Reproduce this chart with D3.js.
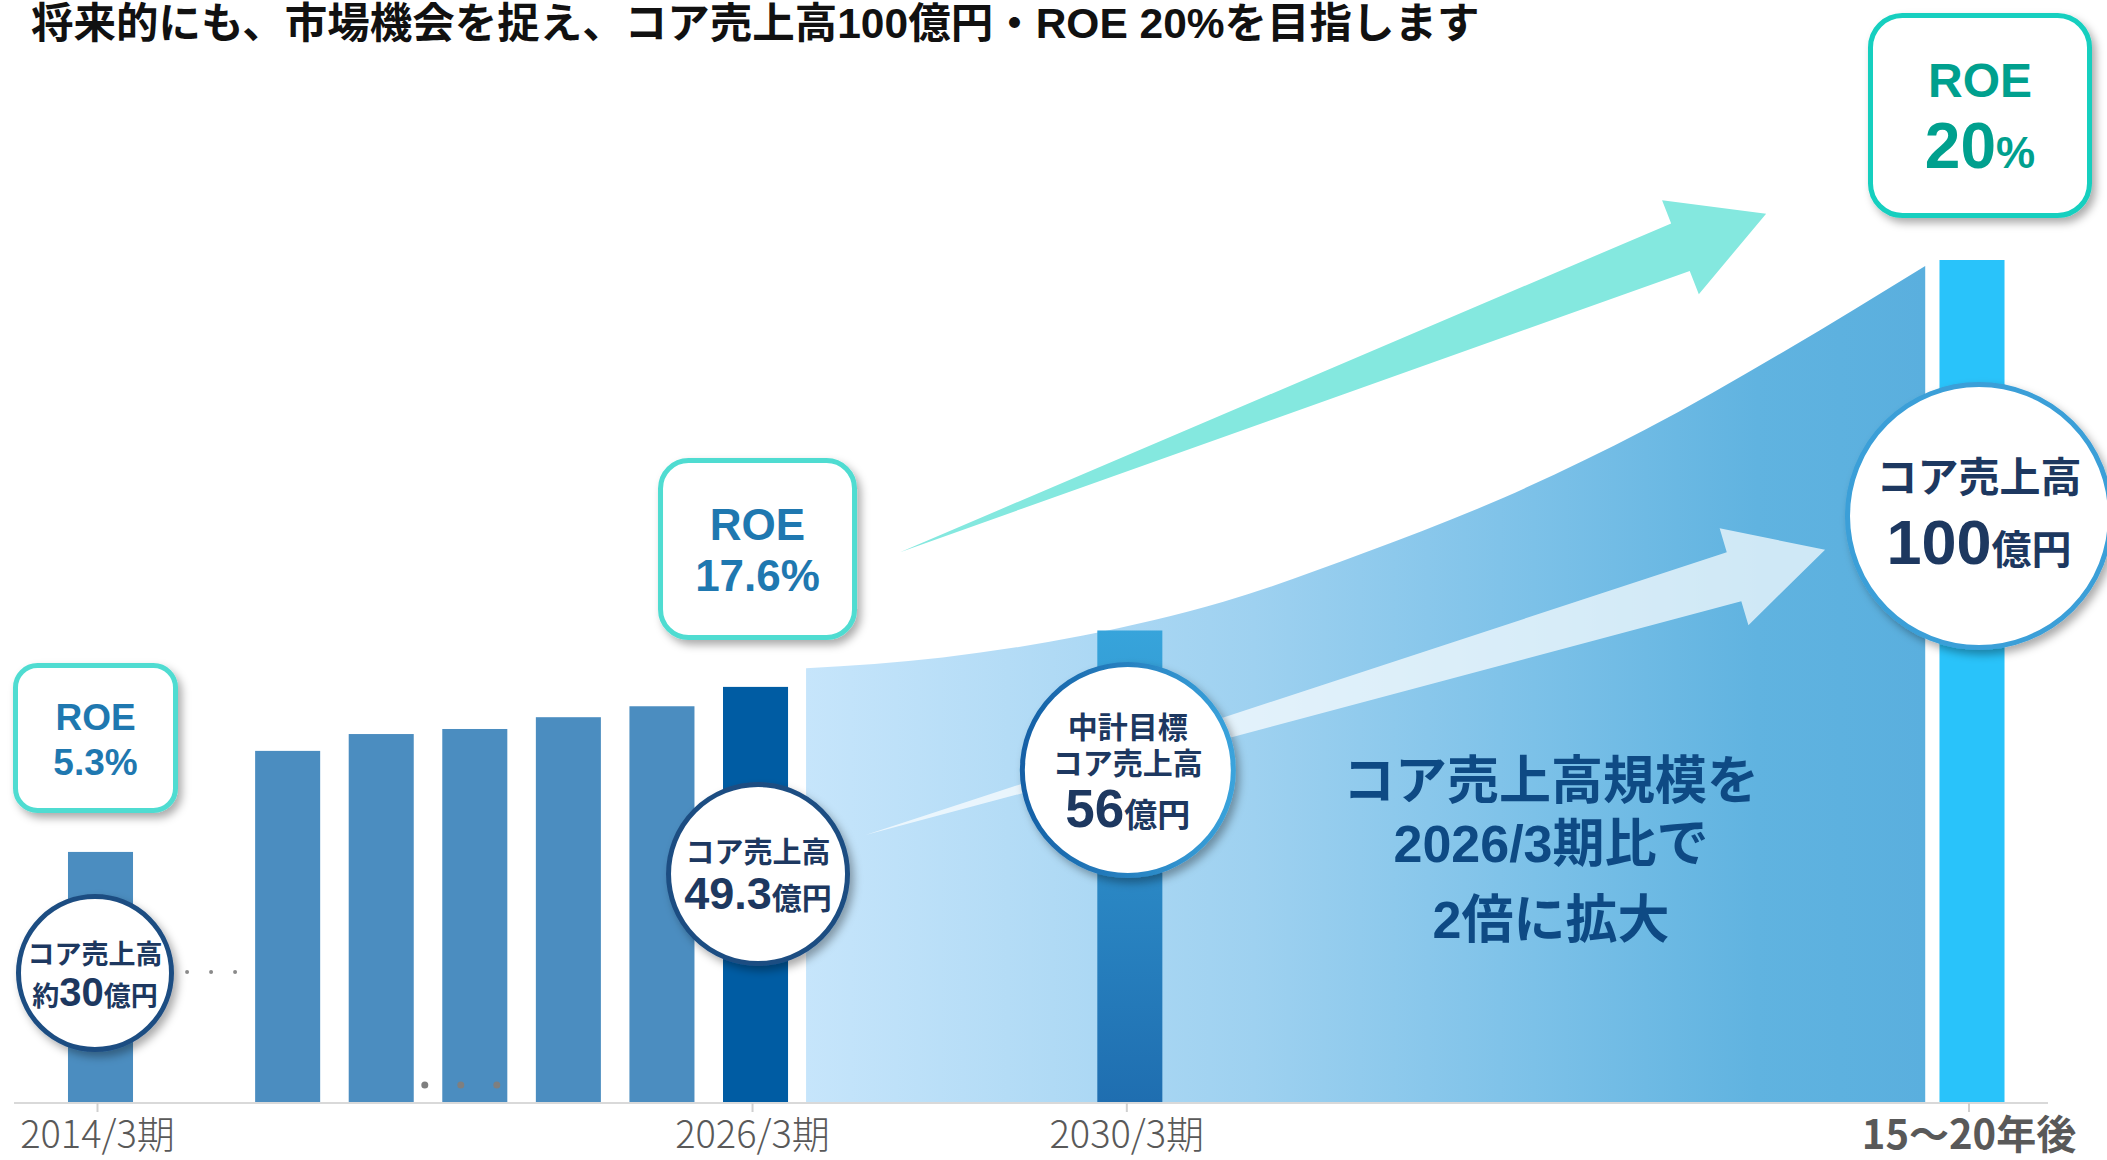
<!DOCTYPE html>
<html lang="ja">
<head>
<meta charset="utf-8">
<script src="https://cdn.jsdelivr.net/npm/d3@7"></script>
<style>
  html, body { margin: 0; padding: 0; background: #fff; }
  svg { display: block; }
  text { font-family: "Liberation Sans", "Noto Sans CJK JP", sans-serif; font-weight: bold; }
</style>
</head>
<body>
<svg id="chart"></svg>
<script>
const W = 2107, H = 1160;

// ---- data (core sales, 億円) ----
const title = "将来的にも、市場機会を捉え、コア売上高100億円・ROE 20%を目指します";
const barSlots  = [0, 2, 3, 4, 5, 6, 7, 11, 20];
const barValues = [29.7, 41.7, 43.7, 44.3, 45.7, 47.0, 49.3, 56, 100];
const growthSlots  = [7.54, 9, 10.5, 12, 13.5, 15, 16.5, 18, 19.5];
const growthValues = [51.5, 52.8, 55.4, 59.4, 65.2, 71.8, 79.8, 89.2, 99.3];
const tickSlots  = [0, 7, 11, 20];
const tickLabels = ["2014/3期", "2026/3期", "2030/3期", "15〜20年後"];
const roeLabels  = ["5.3%", "17.6%", "20%"];
const salesLabels = ["30", "49.3", "56", "100"];
const messageLines = ["コア売上高規模を", "2026/3期比で", "2倍に拡大"];
// arrows: [slot, value] of tail and tip
const roeArrow   = [[8.544, 65.3], [17.8, 105.5]];
const salesArrow = [[8.175, 31.7], [18.43, 65.6]];

const svg = d3.select("#chart").attr("width", W).attr("height", H);
const defs = svg.append("defs");

const x = d3.scaleLinear().domain([0, 20]).range([100.5, 1972]);
const y = d3.scaleLinear().domain([0, 100]).range([1102, 260]);
const step = x(1) - x(0);
const barW = step * 0.695;

function linGrad(id, stops, attrs) {
  const g = defs.append("linearGradient").attr("id", id);
  Object.entries(attrs).forEach(([k, v]) => g.attr(k, v));
  stops.forEach(([o, c]) => g.append("stop").attr("offset", o).attr("stop-color", c));
}
linGrad("areaGrad", [[0, "#c6e5fb"], [0.4, "#9ed1f0"], [0.65, "#7cc1e8"], [0.85, "#60b3e0"], [1, "#5aafde"]],
  { gradientUnits: "userSpaceOnUse", x1: x(growthSlots[0]), x2: x(growthSlots[growthSlots.length - 1]), y1: 0, y2: 0 });
linGrad("bar2030", [[0, "#37a4db"], [1, "#1f6eb0"]], { x1: 0, x2: 0, y1: 0, y2: 1 });
linGrad("ring2030", [[0, "#1560a6"], [1, "#3aa3dc"]], { x1: 0, x2: 1, y1: 0, y2: 0 });

const shadow = defs.append("filter").attr("id", "shadow")
  .attr("x", "-20%").attr("y", "-20%").attr("width", "150%").attr("height", "150%");
shadow.append("feDropShadow").attr("dx", 4).attr("dy", 5).attr("stdDeviation", 4)
  .attr("flood-color", "#000").attr("flood-opacity", 0.33);

// title
svg.append("text").attr("x", 31).attr("y", 38).attr("font-size", 42.5).attr("fill", "#111").text(title);

// growth area
const growth = growthSlots.map((s, i) => [s, growthValues[i]]);
svg.append("path")
  .datum(growth)
  .attr("fill", "url(#areaGrad)")
  .attr("d", d3.area().x(d => x(d[0])).y0(y(0)).y1(d => y(d[1])).curve(d3.curveMonotoneX));

// bars
const barFill = i => i === 6 ? "#005ca3" : i === 7 ? "url(#bar2030)" : i === 8 ? "#29c3fa" : "#4b8dc0";
svg.append("g").selectAll("rect")
  .data(barValues)
  .join("rect")
  .attr("x", (d, i) => x(barSlots[i]) - barW / 2)
  .attr("y", d => y(d))
  .attr("width", barW)
  .attr("height", d => y(0) - y(d))
  .attr("fill", (d, i) => barFill(i));

// axis line + ticks
svg.append("line").attr("x1", 14).attr("x2", 2048).attr("y1", y(0) + 1).attr("y2", y(0) + 1)
  .attr("stroke", "#d9d9d9").attr("stroke-width", 2);
svg.append("g").selectAll("line").data(tickSlots).join("line")
  .attr("x1", d => x(d) - 3).attr("x2", d => x(d) - 3)
  .attr("y1", y(0) + 1).attr("y2", y(0) + 10)
  .attr("stroke", "#d0d0d0").attr("stroke-width", 2);
svg.append("g").selectAll("text").data(tickLabels).join("text")
  .attr("x", (d, i) => x(tickSlots[i]) - 3)
  .attr("y", (d, i) => i === 3 ? 1149 : 1148)
  .attr("text-anchor", "middle")
  .attr("fill", "#595959")
  .style("font-family", '"Noto Sans CJK JP", sans-serif')
  .style("font-weight", (d, i) => i === 3 ? "bold" : 300)
  .attr("font-size", (d, i) => i === 3 ? 40 : 38)
  .text(d => d);

// omitted-period dots
svg.append("g").selectAll("circle").data([-24, 0, 24]).join("circle")
  .attr("cx", d => x(1) + 17 + d).attr("cy", 972).attr("r", 2).attr("fill", "#8a8a8a");
svg.append("g").selectAll("circle").data([-36, 0, 36]).join("circle")
  .attr("cx", d => x(4) - 14 + d).attr("cy", 1085).attr("r", 3.5).attr("fill", "#7f7f7f");

// arrows
function arrowPath(a, b, shaftHalf, headHalf, headLen) {
  const x0 = x(a[0]), y0 = y(a[1]), x1 = x(b[0]), y1 = y(b[1]);
  const L = Math.hypot(x1 - x0, y1 - y0), ux = (x1 - x0) / L, uy = (y1 - y0) / L, nx = -uy, ny = ux;
  const p = (al, c) => [x0 + ux * al + nx * c, y0 + uy * al + ny * c];
  const base = L - headLen;
  return d3.line()([p(0, 0), p(base, -shaftHalf), p(base, -headHalf), p(L, 0), p(base, headHalf), p(base, shaftHalf)]) + "Z";
}
svg.append("path").attr("d", arrowPath(roeArrow[0], roeArrow[1], 25.5, 50.5, 92)).attr("fill", "#84e8df");
svg.append("path").attr("d", arrowPath(salesArrow[0], salesArrow[1], 25.5, 50.5, 95)).attr("fill", "#ffffff").attr("opacity", 0.7);

// ROE boxes
const boxes = [
  { cx: x(0) - 5,  y: 663, w: 165, h: 150, r: 22, stroke: "#4fdcd1", color: "#1f78b0", rows: [[730, 37, "ROE"], [775, 37, roeLabels[0]]] },
  { cx: x(7) + 2,  y: 458, w: 199, h: 182, r: 28, stroke: "#4fdcd1", color: "#1f78b0", rows: [[540, 44, "ROE"], [591, 44, roeLabels[1]]] },
  { cx: x(20) + 8, y: 13,  w: 224, h: 205, r: 32, stroke: "#14cfbf", color: "#00a08e", rows: [[97, 48, "ROE"]] }
];
boxes.forEach(b => {
  const g = svg.append("g");
  g.append("rect").attr("x", b.cx - b.w / 2 + 2.5).attr("y", b.y + 2.5)
    .attr("width", b.w - 5).attr("height", b.h - 5).attr("rx", b.r).attr("ry", b.r)
    .attr("fill", "#fff").attr("stroke", b.stroke).attr("stroke-width", 5).attr("filter", "url(#shadow)");
  b.rows.forEach(([by, fs, t]) => g.append("text").attr("x", b.cx).attr("y", by)
    .attr("text-anchor", "middle").attr("font-size", fs).attr("fill", b.color).text(t));
});
{
  const b = boxes[2];
  const t = svg.append("text").attr("x", b.cx).attr("y", 168).attr("text-anchor", "middle").attr("fill", b.color);
  t.append("tspan").attr("font-size", 64).text(roeLabels[2].replace("%", ""));
  t.append("tspan").attr("font-size", 44).text("%");
}

// sales bubbles
const navy = "#1d3860";
const bubbles = [
  { cx: x(0) - 5.5, cy: 973, r: 79, stroke: "#1f4e82",
    rows: [[964, [["コア売上高", 27]]], [1006, [["約", 27], [salesLabels[0], 40], ["億円", 27]]]] },
  { cx: x(7) + 2.5, cy: 874, r: 92, stroke: "#1f4e82",
    rows: [[863, [["コア売上高", 29]]], [909, [[salesLabels[1], 45], ["億円", 30]]]] },
  { cx: x(11) - 2, cy: 770, r: 108, stroke: "url(#ring2030)",
    rows: [[738, [["中計目標", 30]]], [774, [["コア売上高", 30]]], [827, [[salesLabels[2], 53], ["億円", 33]]]] },
  { cx: x(20) + 7, cy: 516, r: 134, stroke: "#3a9fd8",
    rows: [[492, [["コア売上高", 41]]], [564, [[salesLabels[3], 63], ["億円", 40]]]] }
];
bubbles.forEach(b => {
  const g = svg.append("g");
  g.append("circle").attr("cx", b.cx).attr("cy", b.cy).attr("r", b.r - 2.5)
    .attr("fill", "#fff").attr("stroke", b.stroke).attr("stroke-width", 5).attr("filter", "url(#shadow)");
  b.rows.forEach(([by, parts]) => {
    const t = g.append("text").attr("x", b.cx).attr("y", by).attr("text-anchor", "middle").attr("fill", navy);
    parts.forEach(([s, fs]) => t.append("tspan").attr("font-size", fs).text(s));
  });
});

// message
svg.append("g").selectAll("text").data(messageLines).join("text")
  .attr("x", 1551).attr("y", (d, i) => [799, 862, 938][i])
  .attr("text-anchor", "middle").attr("font-size", 52).attr("fill", "#0e4a84")
  .text(d => d);
</script>
</body>
</html>
